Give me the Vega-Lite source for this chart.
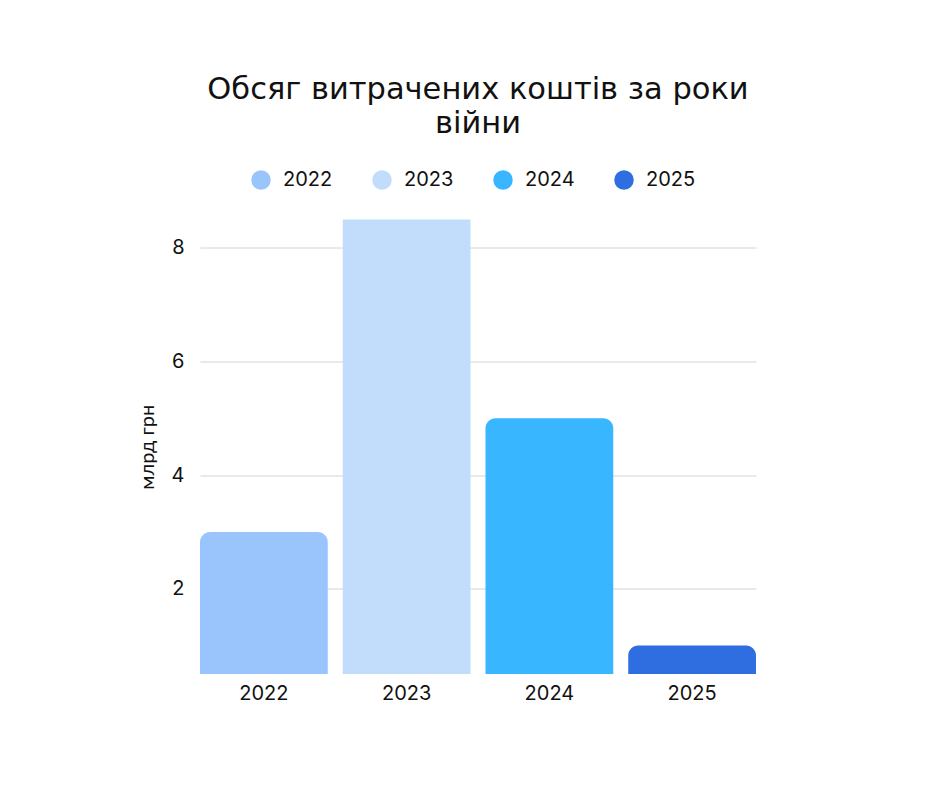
{
  "$schema": "https://vega.github.io/schema/vega-lite/v6.json",
  "autosize": {"type": "none"},
  "padding": {"left": 200, "top": 219.5, "right": 184, "bottom": 113},
  "width": 556,
  "height": 454.5,
  "background": "white",
  "config": {"view": {"stroke": null}},
  "title": {
    "text": ["Обсяг витрачених коштів за роки", "війни"],
    "font": "DejaVu Sans",
    "fontSize": 30.5,
    "fontWeight": "normal",
    "lineHeight": 34,
    "color": "#111111",
    "anchor": "middle",
    "frame": "group",
    "offset": 31
  },
  "data": {
    "values": [
      {"year": "2022", "value": 3},
      {"year": "2023", "value": 9},
      {"year": "2024", "value": 5},
      {"year": "2025", "value": 1}
    ]
  },
  "encoding": {
    "x": {
      "field": "year",
      "type": "nominal",
      "scale": {"paddingInner": 0.105, "paddingOuter": 0},
      "axis": {
        "title": null,
        "labelAngle": 0,
        "labelFont": "Inter",
        "labelFontSize": 20,
        "labelColor": "#111111",
        "labelPadding": 9,
        "ticks": false,
        "domain": false,
        "grid": false
      }
    },
    "y": {
      "field": "value",
      "type": "quantitative",
      "scale": {"domain": [0.5, 8.5], "nice": false, "zero": false, "clamp": true},
      "axis": {
        "title": "млрд грн",
        "titleFont": "Lato",
        "titleFontSize": 20,
        "titleFontWeight": "normal",
        "titleColor": "#111111",
        "titlePadding": 14,
        "values": [2, 4, 6, 8],
        "labelFont": "Inter",
        "labelFontSize": 20,
        "labelColor": "#111111",
        "labelPadding": 16,
        "ticks": false,
        "domain": false,
        "grid": true,
        "gridColor": "#d4d4d4",
        "gridWidth": 1
      }
    },
    "y2": {"datum": 0.5},
    "color": {
      "field": "year",
      "type": "nominal",
      "scale": {"domain": ["2022", "2023", "2024", "2025"], "range": ["#9AC5FC", "#C2DCFC", "#38B6FF", "#2F6EE0"]},
      "legend": {
        "title": null,
        "orient": "none",
        "direction": "horizontal",
        "legendX": 51,
        "legendY": -49.5,
        "symbolType": "circle",
        "symbolSize": 380,
        "symbolStrokeWidth": 0,
        "labelFont": "Inter",
        "labelFontSize": 20,
        "labelColor": "#111111",
        "labelOffset": 12,
        "columnPadding": 39
      }
    }
  },
  "layer": [
    {
      "transform": [{"filter": "datum.value <= 8.5"}],
      "mark": {"type": "bar", "cornerRadiusTopLeft": 10, "cornerRadiusTopRight": 10}
    },
    {
      "transform": [{"filter": "datum.value > 8.5"}],
      "mark": {"type": "bar"}
    }
  ]
}
